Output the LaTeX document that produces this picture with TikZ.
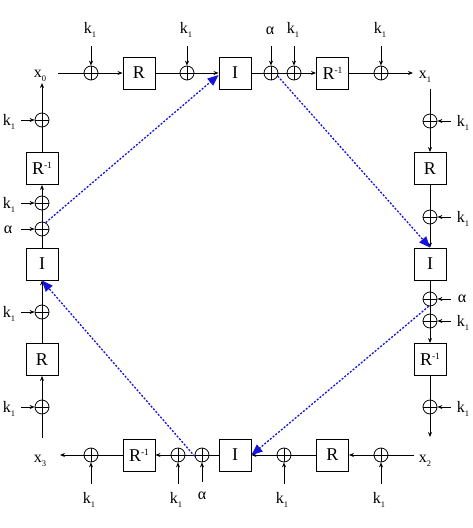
\documentclass[tikz,border=0pt]{standalone}
\usepackage{fontspec}
\setmainfont{Liberation Serif}
\usetikzlibrary{arrows.meta}
\newcommand\ksub[2]{#1\raisebox{-0.6ex}{\fontsize{8.5}{8.5}\selectfont #2}}
\newcommand\Rinv{R\raisebox{0.75ex}{\fontsize{9.5}{9.5}\selectfont -1}}
\begin{document}
\begin{tikzpicture}[x=1pt,y=-1pt,line width=0.8pt,
 xor/.style={circle,draw,minimum size=14pt,inner sep=0pt,
   path picture={\draw (path picture bounding box.north)--(path picture bounding box.south)
                        (path picture bounding box.west)--(path picture bounding box.east);}},
 blk/.style={draw,minimum size=32pt,inner sep=0pt,line width=0.9pt,font=\fontsize{18}{20}\selectfont},
 lbl/.style={font=\fontsize{16}{18}\selectfont,inner sep=0pt},
 ar/.style={-{Stealth[length=5pt,width=4pt]}},
 dia/.style={draw={rgb,255:red,20;green,20;blue,220},line width=1.3pt,dash pattern=on 2pt off 1.6pt,
   -{Triangle[length=11pt,width=9pt,fill={rgb,255:red,20;green,20;blue,220}]}}]
\useasboundingbox (0,0) rectangle (472,528);

% ---- top row
\coordinate (tin) at (58,73);
\node[xor] (t1) at (91,73) {};
\node[blk] (tR) at (139,73) {R};
\node[xor] (t2) at (187,73) {};
\node[blk] (tI) at (235,73) {I};
\node[xor] (ta) at (271,73) {};
\node[xor] (t3) at (294,73) {};
\node[blk] (tRi) at (332.5,73) {\Rinv};
\node[xor] (t4) at (381,73) {};
\coordinate (tout) at (413,73);
\node[lbl] (x0) at (40,76) {\ksub{x}{0}};
\node[lbl] (x1) at (425,77) {\ksub{x}{1}};
\draw (tin) -- (t1);
\draw[ar] (t1) -- (tR);
\draw (tR) -- (t2);
\draw[ar] (t2) -- (tI);
\draw (tI) -- (ta);
\draw (ta) -- (t3);
\draw[ar] (t3) -- (tRi);
\draw (tRi) -- (t4);
\draw[ar] (t4) -- (tout);
\foreach \n/\x in {t1/91, t2/187, t3/294, t4/381}{
  \coordinate (\n k) at (\x,46);
  \draw[ar] (\n k) -- (\n.north);
  \node[lbl] (\n L) at (\x-1,30) {\ksub{k}{1}};
}
\coordinate (tak) at (271,46);
\draw[ar] (tak) -- (ta.north);
\node[lbl] (taL) at (270,31) {α};

% ---- left column
\coordinate (lout) at (42,83);
\node[xor] (l1) at (42,120) {};
\node[blk] (lRi) at (42,168.5) {\Rinv};
\node[xor] (l2) at (42,203) {};
\node[xor] (la) at (42,229) {};
\node[blk] (lI) at (42,264) {I};
\node[xor] (l3) at (42,312) {};
\node[blk] (lR) at (42,359.5) {R};
\node[xor] (l4) at (42,407) {};
\coordinate (lin) at (42,438);
\draw (lin) -- (l4);
\draw[ar] (l4) -- (lR);
\draw (lR) -- (l3);
\draw[ar] (l3) -- (lI);
\draw (lI) -- (la);
\draw (la) -- (l2);
\draw[ar] (l2) -- (lRi);
\draw (lRi) -- (l1);
\draw[ar] (l1) -- (lout);
\foreach \n/\y in {l1/120, l2/203, l3/312, l4/407}{
  \coordinate (\n k) at (21,\y);
  \draw[ar] (\n k) -- (\n.west);
  \node[lbl] (\n L) at (9,\y+2) {\ksub{k}{1}};
}
\coordinate (lak) at (21,229);
\draw[ar] (lak) -- (la.west);
\node[lbl] (laL) at (8,230) {α};

% ---- right column
\coordinate (rin) at (430,89);
\node[xor] (r1) at (430,121) {};
\node[blk] (rR) at (430,168.5) {R};
\node[xor] (r2) at (430,217) {};
\node[blk] (rI) at (430,264) {I};
\node[xor] (ra) at (430,299) {};
\node[xor] (r3) at (430,321) {};
\node[blk] (rRi) at (430,359.5) {\Rinv};
\node[xor] (r4) at (430,407) {};
\coordinate (rout) at (430,437);
\draw (rin) -- (r1);
\draw[ar] (r1) -- (rR);
\draw (rR) -- (r2);
\draw[ar] (r2) -- (rI);
\draw (rI) -- (ra);
\draw (ra) -- (r3);
\draw[ar] (r3) -- (rRi);
\draw (rRi) -- (r4);
\draw[ar] (r4) -- (rout);
\foreach \n/\y in {r1/121, r2/217, r3/321, r4/407}{
  \coordinate (\n k) at (451,\y);
  \draw[ar] (\n k) -- (\n.east);
  \node[lbl] (\n L) at (463,\y+2) {\ksub{k}{1}};
}
\coordinate (rak) at (451,299);
\draw[ar] (rak) -- (ra.east);
\node[lbl] (raL) at (462,299) {α};

% ---- bottom row
\coordinate (bin) at (414,455);
\node[xor] (b4) at (381,455) {};
\node[blk] (bR) at (332.5,455) {R};
\node[xor] (b3) at (284,455) {};
\node[blk] (bI) at (235,455) {I};
\node[xor] (ba) at (202,455) {};
\node[xor] (b2) at (178,455) {};
\node[blk] (bRi) at (139,455) {\Rinv};
\node[xor] (b1) at (91,455) {};
\coordinate (bout) at (60,455);
\node[lbl] (x2) at (425,461) {\ksub{x}{2}};
\node[lbl] (x3) at (40,461) {\ksub{x}{3}};
\draw (bin) -- (b4);
\draw[ar] (b4) -- (bR);
\draw (bR) -- (b3);
\draw[ar] (b3) -- (bI);
\draw (bI) -- (ba);
\draw (ba) -- (b2);
\draw[ar] (b2) -- (bRi);
\draw (bRi) -- (b1);
\draw[ar] (b1) -- (bout);
\foreach \n/\x in {b1/91, b2/178, b3/284, b4/381}{
  \coordinate (\n k) at (\x,484);
  \draw[ar] (\n k) -- (\n.south);
  \node[lbl] (\n L) at (\x-2,500) {\ksub{k}{1}};
}
\coordinate (bak) at (202,482);
\draw[ar] (bak) -- (ba.south);
\node[lbl] (baL) at (202,496) {α};

% ---- blue diagonals
\draw[dia] (la.60) -- ([yshift=-2pt]tI.west);
\draw[dia] (ta.-25) -- (rI.north);
\draw[dia] (ra.-100) -- (bI.east);
\draw[dia] (ba.190) -- (lI.south);
\end{tikzpicture}
\end{document}
